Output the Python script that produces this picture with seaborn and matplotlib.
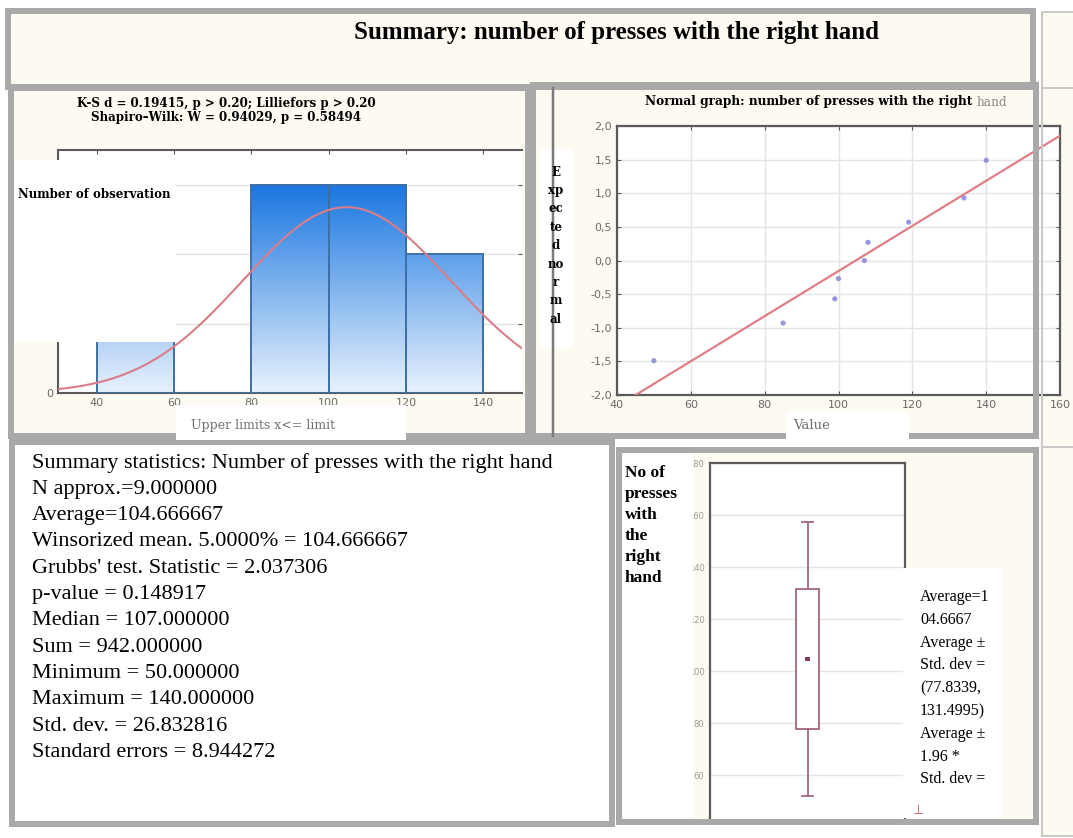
import numpy as np
import pandas as pd
import matplotlib
matplotlib.use("Agg")
import matplotlib.pyplot as plt
from matplotlib.patches import Rectangle
from matplotlib.ticker import FuncFormatter
import seaborn as sns

# ---------------- data ----------------
presses = [50, 85, 99, 100, 107, 108, 119, 134, 140]
expected_normal = [-1.49, -0.93, -0.57, -0.27, 0.0, 0.27, 0.57, 0.93, 1.49]
bin_limits = [40, 60, 80, 100, 120, 140]
hist_xticks = [40, 60, 80, 100, 120, 140]
hist_yticks = [0, 1, 2, 3]
hist_yticklabels = ["0", "", "", ""]
normal_xticks = [40, 60, 80, 100, 120, 140, 160]
normal_yticks = [-2.0, -1.5, -1.0, -0.5, 0.0, 0.5, 1.0, 1.5, 2.0]
box_yticks = [60, 80, 100, 120, 140, 160, 180]

title = "Summary: number of presses with the right hand"
hist_header = ["K-S d = 0.19415, p > 0.20; Lilliefors p > 0.20",
               "Shapiro\u2013Wilk: W = 0.94029, p = 0.58494"]
hist_ylabel = "Number of observation"
hist_xlabel = "Upper limits x<= limit"
normal_title = "Normal graph: number of presses with the right"
normal_title_end = "hand"
normal_ylabel = ["E", "xp", "ec", "te", "d", "no", "r", "m", "al"]
normal_xlabel = "Value"
stats_lines = [
    "Summary statistics: Number of presses with the right hand",
    "N approx.=9.000000",
    "Average=104.666667",
    "Winsorized mean. 5.0000% = 104.666667",
    "Grubbs' test. Statistic = 2.037306",
    "p-value = 0.148917",
    "Median = 107.000000",
    "Sum = 942.000000",
    "Minimum = 50.000000",
    "Maximum = 140.000000",
    "Std. dev. = 26.832816",
    "Standard errors = 8.944272",
]
box_ylabel = ["No of", "presses", "with", "the", "right", "hand"]
box_note = ["Average=1", "04.6667", "Average \u00b1", "Std. dev =", "(77.8339,",
            "131.4995)", "Average \u00b1", "1.96 *", "Std. dev ="]

# ---------------- style ----------------
SERIF = ["Liberation Serif", "DejaVu Serif"]
WIDE = ["DejaVu Serif"]
plt.rcParams["font.family"] = SERIF
GRAY = "#a9a9a9"
CREAM = "#fdfaf1"
SPINE = "#5a5a5a"
TICK = "#6a6a6a"

W, H = 1073, 838
fig = plt.figure(figsize=(W / 100, H / 100), dpi=100)
fig.patch.set_facecolor("white")


def px_axes(l, t, r, b, z):
    return fig.add_axes([l / W, 1 - b / H, (r - l) / W, (b - t) / H], zorder=z)


def full_axes(z):
    a = fig.add_axes([0, 0, 1, 1], zorder=z)
    a.set_xlim(0, W)
    a.set_ylim(H, 0)
    a.axis("off")
    return a


PX = 0.72  # points per pixel
bg = full_axes(0)
ov = full_axes(20)


def box(ax, x0, y0, x1, y1, fc="white", ec="none", lw=0):
    ax.add_patch(Rectangle((x0, y0), x1 - x0, y1 - y0, facecolor=fc,
                           edgecolor=ec, linewidth=lw * PX))


# panel fills
box(bg, 8, 11, 1033, 87, fc=CREAM)
box(bg, 11, 88, 528, 436, fc=CREAM)
box(bg, 533, 85, 1036, 436, fc=CREAM)
box(bg, 1040, 11, 1080, 836, fc=CREAM)
box(bg, 12, 442, 612, 824, fc="white")
box(bg, 619, 450, 1036, 822, fc=CREAM)

# ---------------- histogram ----------------
ax1 = px_axes(58, 150, 522, 393, 5)
ax1.set_facecolor("white")
counts = pd.cut(pd.Series(presses), bins=bin_limits, right=True).value_counts(sort=False).values
bars = ax1.bar(bin_limits[:-1], counts, width=np.diff(bin_limits), align="edge",
               facecolor="none", edgecolor="#3d6fa8", linewidth=1.4, zorder=3)
top_c = np.array([26, 118, 224]) / 255
bot_c = np.array([232, 242, 253]) / 255
for p in bars:
    h = p.get_height()
    if h <= 0:
        continue
    frac = np.linspace(h, 0, 200)[:, None] / 3.0
    img = (bot_c + (top_c - bot_c) * frac)[:, None, :]
    im = ax1.imshow(img, extent=[p.get_x(), p.get_x() + p.get_width(), 0, h],
                    aspect="auto", zorder=2, interpolation="bilinear")
    im.set_clip_path(p)
xs = np.linspace(30, 150, 300)
mean, sd, n = np.mean(presses), np.std(presses, ddof=1), len(presses)
binw = bin_limits[1] - bin_limits[0]
curve = n * binw * np.exp(-0.5 * ((xs - mean) / sd) ** 2) / (sd * np.sqrt(2 * np.pi))
sns.lineplot(x=xs, y=curve, ax=ax1, color="#d97d8a", linewidth=1.5, zorder=4)
ax1.set_xlim(30, 150)
ax1.set_ylim(0, 3.5)
ax1.set_xticks(hist_xticks)
ax1.set_yticks(hist_yticks)
ax1.set_yticklabels(hist_yticklabels)
ax1.yaxis.grid(True, color="#e2e2e2", linewidth=1)
ax1.set_axisbelow(True)
for s in ["left", "top", "bottom"]:
    ax1.spines[s].set_color(SPINE)
    ax1.spines[s].set_linewidth(1.5)
ax1.spines["right"].set_visible(False)
ax1.tick_params(axis="both", direction="in", length=3, color=SPINE, labelsize=8,
                labelcolor=TICK, top=True, right=True)
for lab in ax1.get_xticklabels() + ax1.get_yticklabels():
    lab.set_fontfamily("DejaVu Sans")
ax1.set_xlabel("")
ax1.set_ylabel("")

# ---------------- normal probability plot ----------------
ax2 = px_axes(617, 126, 1060, 395, 5)
ax2.set_facecolor("white")
ax2.set_xlim(40, 160)
ax2.set_ylim(-2.0, 2.0)
sns.regplot(x=presses, y=expected_normal, ax=ax2, ci=None, truncate=False,
            scatter_kws=dict(s=14, color="#7f7fd8", edgecolor="none", zorder=4),
            line_kws=dict(color="#e07e88", linewidth=1.6, zorder=3))
ax2.set_xlim(40, 160)
ax2.set_ylim(-2.0, 2.0)
ax2.set_xticks(normal_xticks)
ax2.set_yticks(normal_yticks)
ax2.yaxis.set_major_formatter(FuncFormatter(lambda v, p: f"{v:.1f}".replace(".", ",")))
ax2.grid(True, color="#e4e4e4", linewidth=1)
ax2.set_axisbelow(True)
for s in ax2.spines.values():
    s.set_color(SPINE)
    s.set_linewidth(1.6)
ax2.tick_params(axis="both", direction="in", length=3, color=SPINE, labelsize=8,
                labelcolor=TICK, top=True, right=True)
for lab in ax2.get_xticklabels() + ax2.get_yticklabels():
    lab.set_fontfamily("DejaVu Sans")
ax2.set_xlabel("")
ax2.set_ylabel("")

# ---------------- box plot (mean, +-SD, +-1.96 SD) ----------------
ax3 = px_axes(710, 463, 905, 822, 5)
ax3.set_facecolor("white")
stats = [dict(med=mean, q1=mean - sd, q3=mean + sd,
              whislo=mean - 1.96 * sd, whishi=mean + 1.96 * sd, fliers=[])]
bkw = dict(color="#a06a78", linewidth=1.3)
ax3.bxp(stats, positions=[0], widths=0.115, showfliers=False, patch_artist=True,
        boxprops=dict(facecolor="white", edgecolor="#a06a78", linewidth=1.3),
        whiskerprops=bkw, capprops=bkw,
        medianprops=dict(linewidth=0), manage_ticks=False, zorder=3)
sns.scatterplot(x=[0], y=[mean], ax=ax3, marker="s", s=10, color="#8a3a4a",
                edgecolor="none", zorder=5)
ax3.set_xlim(-0.5, 0.5)
ax3.set_ylim(42, 180)
ax3.set_xticks([])
ax3.set_yticks(box_yticks)
ax3.yaxis.grid(True, color="#e4e4e4", linewidth=1)
ax3.set_axisbelow(True)
for s in ax3.spines.values():
    s.set_color(SPINE)
    s.set_linewidth(1.6)
ax3.tick_params(axis="y", length=0, labelsize=6, labelcolor="#9a9a9a", pad=4)
for lab in ax3.get_yticklabels():
    lab.set_fontfamily("DejaVu Sans")
ax3.set_xlabel("")
ax3.set_ylabel("")

# ---------------- overlay: borders ----------------
for (x0, y0, x1, y1) in [(8, 11, 1033, 87), (11, 88, 528, 436), (533, 85, 1036, 436),
                         (12, 442, 612, 824), (619, 450, 1036, 822)]:
    box(ov, x0, y0, x1, y1, fc="none", ec=GRAY, lw=6)
for (x0, y0, x1, y1) in [(1042, 12, 1090, 88), (1042, 88, 1090, 447), (1042, 447, 1090, 836)]:
    box(ov, x0, y0, x1, y1, fc="none", ec="#c9c9c9", lw=2)
ov.plot([553, 553], [88, 436], color="#7a7a7a", linewidth=2.5 * PX)

# ---------------- overlay: texts ----------------
ov.text(616, 32, title, ha="center", va="center", fontsize=18, fontweight="bold")

ov.text(226, 104, hist_header[0], ha="center", va="center", fontsize=8.6,
        fontweight="bold", family=WIDE)
ov.text(226, 118, hist_header[1], ha="center", va="center", fontsize=8.6,
        fontweight="bold", family=WIDE)
box(ov, 15, 160, 176, 342)
ov.text(18, 194, hist_ylabel, ha="left", va="center", fontsize=8.5,
        fontweight="bold", family=WIDE)
box(ov, 176, 405, 406, 440)
ov.text(263, 425, hist_xlabel, ha="center", va="center", fontsize=9, color="#707070",
        family=WIDE)

t1 = ov.text(645, 102, normal_title, ha="left", va="center", fontsize=8.7,
             fontweight="bold", family=WIDE)
ov.annotate(normal_title_end, xy=(1, 0.5), xycoords=t1, xytext=(3, 0),
            textcoords="offset points", ha="left", va="center", fontsize=8.7,
            color="#8a8a8a", family=WIDE)
box(ov, 540, 149, 573, 348)
for i, s in enumerate(normal_ylabel):
    ov.text(556, 172 + i * 18.4, s, ha="center", va="center", fontsize=8.5,
            fontweight="bold", family=WIDE)
box(ov, 786, 412, 909, 440)
ov.text(812, 425, normal_xlabel, ha="center", va="center", fontsize=9.5, color="#707070",
        family=WIDE)

for i, s in enumerate(stats_lines):
    ov.text(32, 463 + i * 26.3, s, ha="left", va="center", fontsize=16)

box(ov, 622, 453, 693, 818)
for i, s in enumerate(box_ylabel):
    ov.text(625, 473 + i * 21, s, ha="left", va="center", fontsize=12.5, fontweight="bold")
box(ov, 903, 568, 1003, 818)
for i, s in enumerate(box_note):
    ov.text(920, 597 + i * 22.8, s, ha="left", va="center", fontsize=11.5)
ov.text(918, 810, "\u22a5", ha="center", va="center", fontsize=9, color="#c05a5a",
        family=["DejaVu Sans"])

fig.savefig("out.png", dpi=100, facecolor="white")
